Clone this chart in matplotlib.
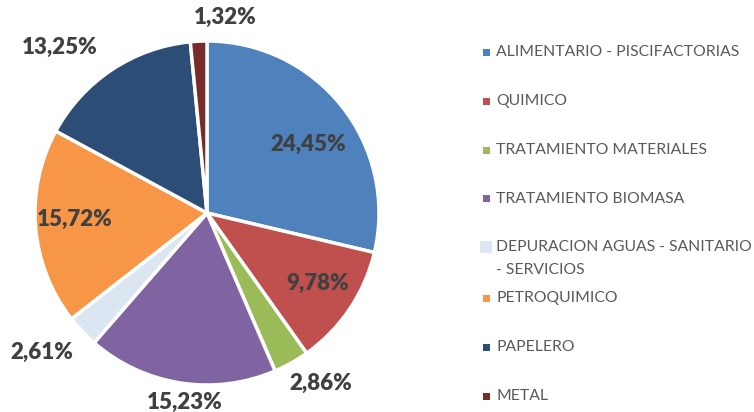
import matplotlib.pyplot as plt
from matplotlib.patches import Rectangle

sectors = ['ALIMENTARIO - PISCIFACTORIAS', 'QUIMICO', 'TRATAMIENTO MATERIALES',
           'TRATAMIENTO BIOMASA', 'DEPURACION AGUAS - SANITARIO\n- SERVICIOS',
           'PETROQUIMICO', 'PAPELERO', 'METAL']
shares = [24.45, 9.78, 2.86, 15.23, 2.61, 15.72, 13.25, 1.32]
colors = ['#4F81BD', '#C0504D', '#9BBB59', '#8064A2', '#DCE6F2',
          '#F79646', '#2C4D75', '#772C2A']

# label placement (x, y) in pie units, as Excel put them
label_pos = [(0.59, 0.40), (0.645, -0.41), (0.66, -0.99), (-0.13, -1.10),
             (-0.96, -0.81), (-0.77, -0.04), (-0.855, 0.96), (0.105, 1.135)]

fig = plt.figure(figsize=(7.54, 4.12), dpi=100)
W, H = 754, 412
cx, cy, r = 207, 213, 172
ax = fig.add_axes([(cx - r) / W, (H - cy - r) / H, 2 * r / W, 2 * r / H])
ax.pie(shares, colors=colors, startangle=90, counterclock=False, radius=1,
       wedgeprops=dict(edgecolor='white', linewidth=2.5))
ax.set_xlim(-1, 1)
ax.set_ylim(-1, 1)
ax.set_aspect('equal')
ax.axis('off')

for v, (x, y) in zip(shares, label_pos):
    ax.text(x, y, ('%.2f%%' % v).replace('.', ','), ha='center', va='center',
            fontsize=16, fontweight='heavy', color='#404040', family='Lato',
            clip_on=False)

# legend
rows = [52, 101, 150, 199, 258, 298, 347, 396]
fs = 11.3
for name, c, y in zip(sectors, colors, rows):
    if '\n' in name:
        fig.add_artist(Rectangle(((480) / W, (H - 247 - 6) / H), 12 / W, 12 / H,
                                 transform=fig.transFigure, color=c, lw=0))
        fig.text(496 / W, (H - 247) / H, name.split('\n')[0], ha='left', va='center',
                 fontsize=fs, color='#595959', family='Lato')
        fig.text(496 / W, (H - 270) / H, name.split('\n')[1], ha='left', va='center',
                 fontsize=fs, color='#595959', family='Lato')
    else:
        fig.add_artist(Rectangle((483 / W, (H - y - 3.5) / H), 7 / W, 7 / H,
                                 transform=fig.transFigure, color=c, lw=0))
        fig.text(496 / W, (H - y) / H, name, ha='left', va='center',
                 fontsize=fs, color='#595959', family='Lato')

fig.savefig('out.png', dpi=100)
